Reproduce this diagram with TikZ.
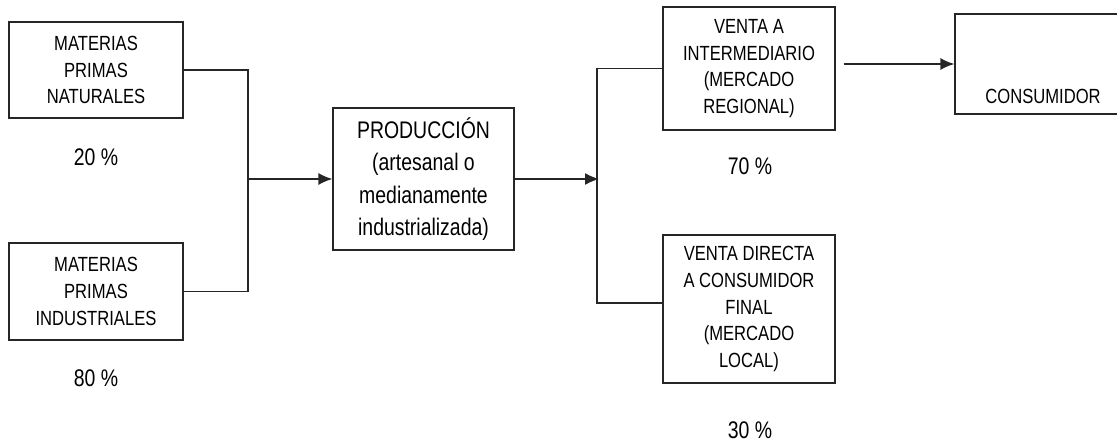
\documentclass[tikz,border=0pt]{standalone}
\usepackage{fontspec}
\setmainfont{Liberation Sans}[FakeStretch=0.81]
\usetikzlibrary{arrows.meta}

\begin{document}
\begin{tikzpicture}[x=1pt,y=-1pt,
    line width=1.3pt, draw=black!85,
    box/.style={draw, rectangle, inner sep=0pt, align=center,
      font=\fontsize{20.5}{26.7}\selectfont},
    pct/.style={font=\fontsize{24}{28}\selectfont, inner sep=1pt},
    arr/.style={-{Latex[length=14pt,width=12pt]}}]
  \useasboundingbox (0,0) rectangle (1117,444);

  \node [box,minimum width=174pt,minimum height=96pt] (mpn) at (96,70)
    {MATERIAS\\PRIMAS\\NATURALES};
  \node [pct] (p20) at (96,157) {20 \%};

  \node [box,minimum width=174pt,minimum height=97pt] (mpi) at (96,291.5)
    {MATERIAS\\PRIMAS\\INDUSTRIALES};
  \node [pct] (p80) at (96,378) {80 \%};

  \node [box,minimum width=181pt,minimum height=142pt,
    font=\fontsize{24}{32.5}\selectfont] (prod) at (423.5,179)
    {PRODUCCIÓN\\(artesanal o\\medianamente\\industrializada)};

  \node [box,minimum width=172pt,minimum height=123pt] (vint) at (749,68.5)
    {VENTA A\\INTERMEDIARIO\\(MERCADO\\REGIONAL)};
  \node [pct] (p70) at (750,166) {70 \%};

  \node [box,minimum width=172pt,minimum height=148pt] (vdir) at (749,309)
    {VENTA DIRECTA\\A CONSUMIDOR\\FINAL\\(MERCADO\\LOCAL)};
  \node [pct] (p30) at (750,430) {30 \%};

  \node [box,minimum width=176pt,text height=89pt,text depth=11pt]
    (cons) at (1043,64) {CONSUMIDOR};

  \coordinate (j1) at (248,179);
  \coordinate (j2) at (597,179);

  \draw (mpn.east) -| (j1) |- (mpi.east);
  \draw [arr] (j1) -- (prod.west);

  \draw [arr] (prod.east) -- ([xshift=2pt]j2);
  \draw (vint.west) -| (j2) |- ([yshift=6pt]vdir.west);

  \draw [arr] ([xshift=8pt]vint.east |- cons.west) -- (cons.west);
\end{tikzpicture}
\end{document}
